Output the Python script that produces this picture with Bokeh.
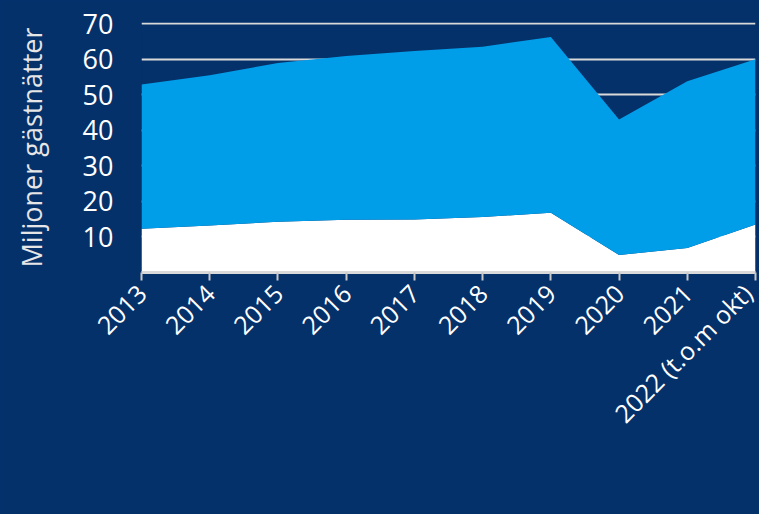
import math
from bokeh.plotting import figure
from bokeh.models import Range1d, FixedTicker, ColumnDataSource, Legend, LegendItem
from bokeh.embed import file_html
from bokeh.resources import INLINE

years = ["2013", "2014", "2015", "2016", "2017", "2018", "2019", "2020", "2021", "2022 (t.o.m okt)"]
utlandska = [12.3, 13.2, 14.3, 14.8, 14.9, 15.6, 16.8, 4.9, 6.9, 13.5]
inhemska = [40.6, 42.3, 44.6, 46.1, 47.4, 47.9, 49.4, 38.1, 46.9, 46.5]
y_ticks = [10, 20, 30, 40, 50, 60, 70]

NAVY = "#05316b"
BLUE = "#009ee9"
FONT = "Open Sans"

src = ColumnDataSource(dict(x=list(range(len(years))), utl=utlandska, inh=inhemska))

p = figure(width=759, height=514, frame_width=614, frame_height=250,
           x_range=Range1d(0, len(years) - 1),
           y_range=Range1d(0, 70.3), output_backend="svg", toolbar_location=None,
           background_fill_color=NAVY, border_fill_color=NAVY, outline_line_color=None,
           min_border_left=141, min_border_right=4, min_border_top=22, min_border_bottom=0)

rs = p.varea_stack(["utl", "inh"], x="x", source=src, color=["white", BLUE])

# grid
p.xgrid.grid_line_color = None
p.ygrid.ticker = FixedTicker(ticks=y_ticks)
p.ygrid.grid_line_color = "#d9d9d9"
p.ygrid.grid_line_width = 2

# y axis
ya = p.yaxis[0]
ya.ticker = FixedTicker(ticks=y_ticks)
ya.axis_line_color = None
ya.major_tick_line_color = None
ya.minor_tick_line_color = None
ya.major_tick_out = 0
ya.major_tick_in = 0
ya.major_label_standoff = 28
ya.major_label_text_font = FONT
ya.major_label_text_font_size = "27px"
ya.major_label_text_color = "white"
ya.axis_label = "Miljoner gästnätter"
ya.axis_label_text_font = FONT
ya.axis_label_text_font_size = "27px"
ya.axis_label_text_font_style = "normal"
ya.axis_label_text_color = "#e6e6e6"
ya.axis_label_standoff = 30

# x axis
xa = p.xaxis[0]
xa.ticker = FixedTicker(ticks=list(range(len(years))))
xa.major_label_overrides = {i: y for i, y in enumerate(years)}
xa.major_label_orientation = math.pi / 4
xa.major_label_text_font = FONT
xa.major_label_text_font_size = "25px"
xa.major_label_text_color = "white"
xa.major_label_standoff = 8
xa.axis_line_color = "#d9d9d9"
xa.axis_line_width = 3
xa.major_tick_line_color = "#c8c8c8"
xa.major_tick_line_width = 2
xa.major_tick_out = 8
xa.major_tick_in = 0
xa.minor_tick_line_color = None

legend = Legend(items=[LegendItem(label="Utländska gästnätter", renderers=[rs[0]]),
                       LegendItem(label="Inhemska gästnätter", renderers=[rs[1]])],
                orientation="horizontal", location="top_center")
legend.label_text_font = FONT
legend.label_text_font_size = "24px"
legend.label_text_color = "white"
legend.glyph_width = 16
legend.glyph_height = 16
legend.label_standoff = 8
legend.spacing = 16
legend.label_width = 290
legend.padding = 0
legend.margin = 0
legend.background_fill_alpha = 0
legend.border_line_color = None
p.add_layout(legend, "below")

html = file_html(p, INLINE)
html = html.replace("</head>", "<style>html,body{margin:0;padding:0;background:%s;overflow:hidden;}</style></head>" % NAVY, 1)
open("out.html", "w").write(html)
